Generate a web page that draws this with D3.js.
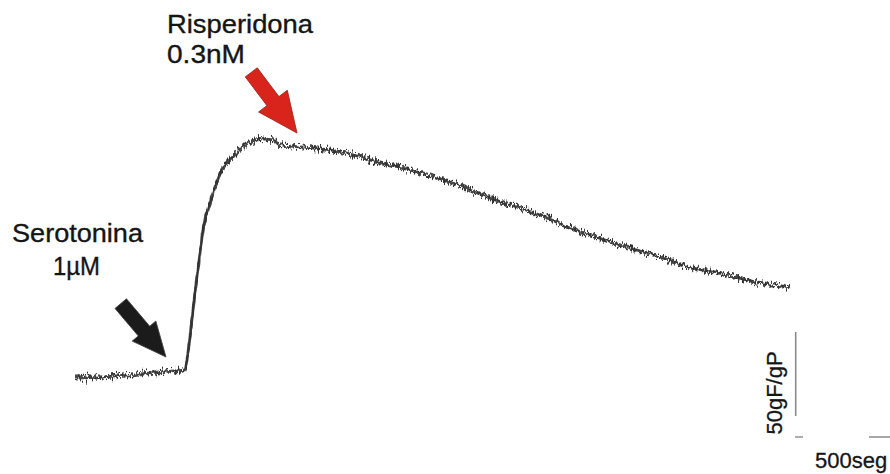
<!DOCTYPE html>
<html>
<head>
<meta charset="utf-8">
<script src="https://cdn.jsdelivr.net/npm/d3@7"></script>
<style>
  html, body { margin: 0; padding: 0; background: #fff; }
  svg { display: block; }
  text { font-family: "Liberation Sans", Arial, sans-serif; fill: #151515; }
</style>
</head>
<body>
<svg id="chart" width="890" height="474"></svg>
<script>
// Contraction trace: time (s) and tension (gF/gP above baseline)
const timeSec = [0, 125, 275, 425, 550, 560, 575, 590, 610, 625, 640, 665, 700, 735, 785, 860, 925, 990, 1025, 1190, 1360, 1475, 1575, 1725, 1875, 1975, 2075, 2225, 2325, 2440, 2590, 2760, 2925, 3090, 3260, 3425, 3575];
const tension = [0, 0.6, 1.8, 3.6, 4.8, 10.7, 24.4, 40.5, 60.1, 74.4, 88.1, 100, 113.7, 123.8, 131.5, 139.3, 142.3, 141.7, 138.7, 136.9, 133.9, 129.8, 126.8, 122.0, 116.7, 111.9, 107.1, 101.2, 97.0, 91.1, 84.5, 78.0, 72.0, 65.5, 61.3, 56.5, 54.2];

// Drug additions: label lines, and the point of the trace each arrow points at
const drugNames = ["Serotonina", "Risperidona"];
const drugDoses = ["1µM", "0.3nM"];
const drugTime = [455, 1110];
const drugLevel = [12.5, 145.8];

// Calibration bars
const scaleForce = 50;   // gF/gP
const scaleTime = 500;   // s
const scaleLabels = ["50gF/gP", "500seg"];

const svg = d3.select("#chart");
svg.append("rect").attr("width", 890).attr("height", 474).attr("fill", "#fff");

const x = d3.scaleLinear().domain([0, 3575]).range([75, 790]);
const y = d3.scaleLinear().domain([0, 142.86]).range([378, 138]);

// Recording noise: vertical-only jitter of the trace
const defs = svg.append("defs");
function noiseFilter(id, freq, seed, amp) {
  const f = defs.append("filter").attr("id", id)
    .attr("x", "-2%").attr("y", "-5%").attr("width", "104%").attr("height", "110%");
  f.append("feTurbulence").attr("type", "fractalNoise").attr("baseFrequency", freq)
    .attr("numOctaves", 1).attr("seed", seed).attr("result", "n");
  f.append("feColorMatrix").attr("in", "n").attr("type", "matrix")
    .attr("values", "0 0 0 0 0.5  0 1 0 0 0  0 0 0 0 0  0 0 0 0 1").attr("result", "ny");
  f.append("feDisplacementMap").attr("in", "SourceGraphic").attr("in2", "ny")
    .attr("scale", amp).attr("xChannelSelector", "R").attr("yChannelSelector", "G");
}
noiseFilter("noiseA", "0.5 0.1", 4, 11);
noiseFilter("noiseB", "0.8 0.1", 11, 18);

const line = d3.line()
  .x((d, i) => x(timeSec[i]))
  .y((d, i) => y(tension[i]))
  .curve(d3.curveMonotoneX);

const trace = svg.append("g");
trace.append("path")
  .datum(tension)
  .attr("d", line)
  .attr("fill", "none")
  .attr("stroke", "#4a4a4a")
  .attr("stroke-width", 2.8)
  .attr("filter", "url(#noiseA)");
trace.append("path")
  .datum(tension)
  .attr("d", line)
  .attr("fill", "none")
  .attr("stroke", "#333")
  .attr("stroke-width", 2)
  .attr("filter", "url(#noiseB)");

// Block arrows pointing down-right onto the trace
function arrow(tipX, tipY, len, headLen, shaftW, headW, angleDeg, fill, edge) {
  const pts = [
    [0, 0], [-headLen, headW / 2], [-headLen, shaftW / 2], [-len, shaftW / 2],
    [-len, -shaftW / 2], [-headLen, -shaftW / 2], [-headLen, -headW / 2]
  ];
  svg.append("polygon")
    .attr("points", pts.map(p => p.join(",")).join(" "))
    .attr("transform", `translate(${tipX},${tipY}) rotate(${angleDeg})`)
    .attr("fill", fill)
    .attr("stroke", edge)
    .attr("stroke-width", 0.8)
    .attr("stroke-linejoin", "miter");
}
arrow(x(drugTime[0]), y(drugLevel[0]), 70, 34, 15, 31, 49.7, "#1b1b1b", "#444");
arrow(x(drugTime[1]), y(drugLevel[1]), 76, 40, 15, 36, 53, "#d9241c", "#9a2a22");

// Drug labels
const labels = [
  { t: drugNames[0], x: 12, y: 242, w: 131 },
  { t: drugDoses[0], x: 53, y: 275, w: 47 },
  { t: drugNames[1], x: 167, y: 33, w: 146 },
  { t: drugDoses[1], x: 167, y: 63, w: 78 }
];
svg.selectAll("text.lab").data(labels).join("text")
  .attr("class", "lab")
  .attr("x", d => d.x).attr("y", d => d.y)
  .attr("font-size", 25.5)
  .attr("textLength", d => d.w)
  .attr("lengthAdjust", "spacingAndGlyphs")
  .attr("stroke", "#151515").attr("stroke-width", 0.35)
  .text(d => d.t);

// Vertical calibration bar (50 gF/gP)
const barX = 795.7;
svg.append("line")
  .attr("x1", barX).attr("x2", barX)
  .attr("y1", y(27.4)).attr("y2", y(27.4 - scaleForce))
  .attr("stroke", "#8a8a8a").attr("stroke-width", 1.6);
svg.append("text")
  .attr("transform", `translate(782,393) rotate(-90)`)
  .attr("text-anchor", "middle")
  .attr("font-size", 22)
  .attr("stroke", "#151515").attr("stroke-width", 0.3)
  .text(scaleLabels[0]);

// Horizontal calibration bar (500 s)
const barY = 437;
svg.append("line")
  .attr("x1", 795).attr("x2", 803)
  .attr("y1", barY).attr("y2", barY)
  .attr("stroke", "#8a8a8a").attr("stroke-width", 1.4);
svg.append("line")
  .attr("x1", 869).attr("x2", 869 + (x(scaleTime) - x(0)))
  .attr("y1", barY).attr("y2", barY)
  .attr("stroke", "#8a8a8a").attr("stroke-width", 1.4);
svg.append("text")
  .attr("x", 815).attr("y", 468)
  .attr("font-size", 22)
  .attr("stroke", "#151515").attr("stroke-width", 0.3)
  .text(scaleLabels[1]);
</script>
</body>
</html>
